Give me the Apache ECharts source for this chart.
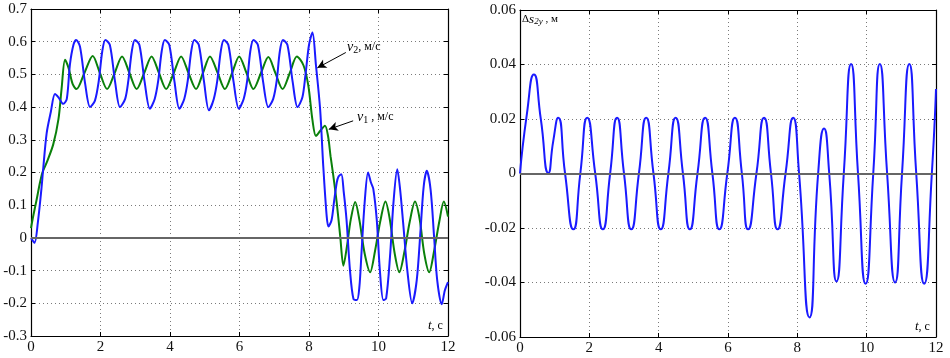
<!DOCTYPE html>
<html>
<head>
<meta charset="utf-8">
<script src="https://cdn.jsdelivr.net/npm/echarts@6/dist/echarts.min.js"></script>
<style>
  html, body { margin: 0; padding: 0; background: #fff; }
  #chart { width: 950px; height: 358px; }
</style>
</head>
<body>
<div id="chart"></div>
<script>
// скорость v2 (синяя), м/с
var v2Data = [
  [0,0],[0.1,-0.015],[0.2,0.05],[0.3,0.15],[0.35,0.21],[0.45,0.32],[0.57,0.385],[0.69,0.44],[0.79,0.43],
  [0.93,0.41],[1.03,0.425],[1.12,0.53],[1.22,0.59],[1.30,0.605],[1.41,0.585],[1.56,0.47],[1.70,0.40],
  [1.84,0.42],[1.95,0.48],[2.05,0.57],[2.14,0.605],
  [2.27,0.59],[2.42,0.477],[2.56,0.40],[2.71,0.425],[2.80,0.48],[2.90,0.57],[2.99,0.605],
  [3.12,0.59],[3.27,0.477],[3.42,0.395],[3.56,0.425],[3.66,0.48],[3.76,0.57],[3.85,0.605],
  [3.98,0.59],[4.13,0.477],[4.27,0.395],[4.41,0.425],[4.51,0.48],[4.61,0.57],[4.70,0.605],
  [4.83,0.59],[4.98,0.477],[5.12,0.39],[5.26,0.425],[5.36,0.48],[5.46,0.57],[5.55,0.605],
  [5.68,0.59],[5.83,0.477],[5.98,0.395],[6.12,0.425],[6.22,0.48],[6.31,0.57],[6.40,0.605],
  [6.53,0.59],[6.68,0.477],[6.83,0.40],[6.97,0.425],[7.07,0.48],[7.16,0.57],[7.25,0.605],
  [7.38,0.59],[7.53,0.477],[7.67,0.40],[7.81,0.43],[7.90,0.50],[8.0,0.59],[8.10,0.628],
  [8.2,0.528],[8.32,0.394],[8.41,0.22],[8.51,0.065],[8.56,0.035],[8.65,0.055],[8.72,0.11],[8.8,0.17],
  [8.85,0.188],[8.93,0.195],[9.0,0.14],[9.08,0.055],[9.18,-0.1],[9.28,-0.187],[9.38,-0.19],[9.45,-0.15],
  [9.51,-0.047],[9.6,0.106],[9.7,0.2],[9.78,0.17],[9.85,0.15],[9.95,0.055],[10.04,-0.1],[10.14,-0.19],
  [10.22,-0.185],[10.33,-0.059],[10.43,0.107],[10.54,0.21],[10.62,0.15],[10.71,0.045],[10.83,-0.1],
  [10.97,-0.2],[11.1,-0.13],[11.21,0.024],[11.3,0.157],[11.39,0.205],[11.5,0.147],[11.6,0.003],
  [11.69,-0.13],[11.82,-0.203],[11.91,-0.16],[12,-0.135]
];

// скорость v1 (зелёная), м/с
var v1Data = [
  [0,0.03],[0.07,0.07],[0.16,0.116],[0.26,0.17],[0.33,0.2],[0.45,0.23],[0.64,0.286],[0.79,0.363],
  [0.88,0.456],[0.98,0.545],[1.08,0.52],[1.2,0.47],[1.31,0.455],[1.54,0.505],[1.775,0.556],
  [1.98,0.505],[2.19,0.455],[2.41,0.505],[2.62,0.555],[2.83,0.505],[3.04,0.455],[3.26,0.505],
  [3.47,0.555],[3.68,0.505],[3.89,0.455],[4.11,0.505],[4.32,0.555],[4.53,0.505],[4.75,0.455],
  [4.95,0.505],[5.15,0.555],[5.37,0.505],[5.58,0.455],[5.79,0.505],[5.99,0.555],[6.2,0.505],
  [6.40,0.455],[6.62,0.505],[6.83,0.553],[7.03,0.505],[7.24,0.455],[7.45,0.505],[7.65,0.555],
  [7.84,0.528],[7.98,0.466],[8.1,0.36],[8.2,0.312],[8.32,0.327],[8.46,0.343],[8.55,0.31],[8.62,0.25],
  [8.7,0.19],[8.8,0.106],[8.9,0.003],[8.99,-0.085],[9.1,-0.02],[9.2,0.055],[9.33,0.11],[9.45,0.055],
  [9.6,-0.047],[9.76,-0.105],[9.9,-0.04],[10.05,0.05],[10.2,0.111],[10.32,0.06],[10.47,-0.05],
  [10.6,-0.105],[10.75,-0.04],[10.9,0.05],[11.05,0.111],[11.18,0.06],[11.32,-0.05],[11.46,-0.105],
  [11.6,-0.04],[11.75,0.05],[11.88,0.111],[12,0.065]
];

// отклонение Δs2y, м
var dsData = [
  [0,0],[0.2,0.022],[0.4,0.0363],[0.6,0.02],[0.82,0.0002],[0.96,0.012],[1.10,0.0205],[1.30,0],
  [1.54,-0.0205],[1.74,0],[1.94,0.0205],[2.17,0],[2.39,-0.0205],[2.6,0],[2.80,0.0205],[3.0,0],
  [3.21,-0.0205],[3.43,0],[3.64,0.0205],[3.85,0],[4.06,-0.0205],[4.28,0],[4.49,0.0205],[4.70,0],
  [4.90,-0.0205],[5.12,0],[5.34,0.0205],[5.55,0],[5.75,-0.0205],[5.98,0],[6.20,0.0205],[6.40,0],
  [6.58,-0.0205],[6.82,0],[7.04,0.0205],[7.24,0],[7.43,-0.0205],[7.66,0],[7.88,0.0205],[8.05,0],
  [8.35,-0.0528],[8.6,0],[8.77,0.0165],[8.92,0],[9.13,-0.0396],[9.34,0],[9.55,0.0402],[9.75,0],
  [9.97,-0.0405],[10.19,0],[10.38,0.0402],[10.59,0],[10.82,-0.04],[11.02,0],[11.23,0.0402],
  [11.43,0],[11.66,-0.0405],[11.88,0],[12,0.031]
];

var tTicks = [0, 2, 4, 6, 8, 10, 12];

const chart = echarts.init(document.getElementById("chart"));

var serif = "'Liberation Serif', 'DejaVu Serif', serif";
var gridLine = { show: true, lineStyle: { color: '#7a7a7a', type: [1, 3], width: 1 } };
var tick = { show: true, inside: true, length: 4, lineStyle: { color: '#000' } };
var axLine = { show: true, onZero: false, lineStyle: { color: '#000', width: 1.2 } };
var lbl = { fontFamily: serif, fontSize: 15, color: '#111' };

function xAx(gi, pos) {
    return {
        type: 'value', gridIndex: gi, position: pos, min: tTicks[0], max: tTicks[tTicks.length - 1], interval: 2,
        axisLine: axLine, axisTick: tick,
        axisLabel: pos == 'bottom' ? Object.assign({ margin: 4 }, lbl) : { show: false },
        splitLine: pos == 'bottom' ? gridLine : { show: false }
    };
}
function yAx(gi, pos, min, max, step, dec) {
    return {
        type: 'value', gridIndex: gi, position: pos, min: min, max: max, interval: step,
        axisLine: axLine, axisTick: tick,
        axisLabel: pos == 'left' ? Object.assign({
            margin: 4,
            formatter: function (v) { return Math.abs(v) < 1e-9 ? '0' : v.toFixed(dec); }
        }, lbl) : { show: false },
        splitLine: pos == 'left' ? gridLine : { show: false }
    };
}

var zeroLine = {
    silent: true, symbol: 'none', label: { show: false },
    lineStyle: { color: '#666', type: 'solid', width: 1.8 },
    data: [{ yAxis: 0 }]
};

var option = {
    animation: false,
    backgroundColor: '#fff',
    grid: [
        { left: 31, right: 502, top: 9, bottom: 22 },
        { left: 520, right: 14, top: 10, bottom: 21 }
    ],
    xAxis: [xAx(0, 'bottom'), xAx(0, 'top'), xAx(1, 'bottom'), xAx(1, 'top')],
    yAxis: [
        yAx(0, 'left', -0.3, 0.7, 0.1, 1), yAx(0, 'right', -0.3, 0.7, 0.1, 1),
        yAx(1, 'left', -0.06, 0.06, 0.02, 2), yAx(1, 'right', -0.06, 0.06, 0.02, 2)
    ],
    series: [
        {
            name: 'v1', type: 'line', xAxisIndex: 0, yAxisIndex: 0, data: v1Data,
            symbol: 'none', smooth: 0.3, lineStyle: { color: '#0a800a', width: 2 },
            markLine: zeroLine
        },
        {
            name: 'v2', type: 'line', xAxisIndex: 0, yAxisIndex: 0, data: v2Data,
            symbol: 'none', smooth: 0.3, lineStyle: { color: '#1a1aff', width: 2 },
            markLine: {
                silent: true, symbol: ['none', 'arrow'], symbolSize: [7, 9], label: { show: false },
                lineStyle: { color: '#000', type: 'solid', width: 1 },
                data: [
                    [{ coord: [9.06, 0.567] }, { coord: [8.24, 0.52] }],
                    [{ coord: [9.27, 0.358] }, { coord: [8.57, 0.332] }]
                ]
            }
        },
        {
            name: 'ds', type: 'line', xAxisIndex: 2, yAxisIndex: 2, data: dsData,
            symbol: 'none', smooth: 0.6, lineStyle: { color: '#1a1aff', width: 2 },
            markLine: zeroLine
        }
    ],
    graphic: [
        {
            type: 'text', left: 347, top: 40,
            style: {
                text: '{i|v}{s|2}{n|, м/с}',
                rich: {
                    i: { fontFamily: serif, fontStyle: 'italic', fontSize: 14 },
                    s: { fontFamily: serif, fontSize: 10, padding: [6, 0, 0, 0] },
                    n: { fontFamily: serif, fontSize: 12 }
                }
            }
        },
        {
            type: 'text', left: 357, top: 110,
            style: {
                text: '{i|v}{s|1}{n| , м/с}',
                rich: {
                    i: { fontFamily: serif, fontStyle: 'italic', fontSize: 14 },
                    s: { fontFamily: serif, fontSize: 10, padding: [6, 0, 0, 0] },
                    n: { fontFamily: serif, fontSize: 12 }
                }
            }
        },
        {
            type: 'text', left: 428, top: 319,
            style: {
                text: '{i|t}{n|, с}',
                rich: {
                    i: { fontFamily: serif, fontStyle: 'italic', fontSize: 13 },
                    n: { fontFamily: serif, fontSize: 12 }
                }
            }
        },
        {
            type: 'text', left: 915, top: 320,
            style: {
                text: '{i|t}{n|, с}',
                rich: {
                    i: { fontFamily: serif, fontStyle: 'italic', fontSize: 13 },
                    n: { fontFamily: serif, fontSize: 12 }
                }
            }
        },
        {
            type: 'text', left: 522, top: 13,
            style: {
                text: '{n|Δ}{i|s}{s|2y}{n| , м}',
                rich: {
                    i: { fontFamily: serif, fontStyle: 'italic', fontSize: 13 },
                    s: { fontFamily: serif, fontStyle: 'italic', fontSize: 9, padding: [5, 0, 0, 0] },
                    n: { fontFamily: serif, fontSize: 11 }
                }
            }
        }
    ]
};
chart.setOption(option);
</script>
</body>
</html>
